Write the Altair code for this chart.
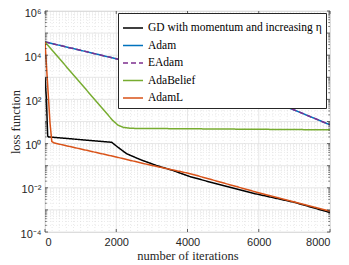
import altair as alt
import pandas as pd
import numpy as np

series = ["GD with momentum and increasing η", "Adam", "EAdam", "AdaBelief", "AdamL"]
colors = ["#000000", "#0072BD", "#7E2F8E", "#77AC30", "#D95319"]
dashes = [[1, 0], [1, 0], [5, 3], [1, 0], [1, 0]]

gd_iter = [0, 40, 75, 100, 1870, 2010, 2290, 2670, 3130, 3600, 4070, 5000, 5900, 7000, 8000]
gd_loss = [1e3, 1e2, 2.2, 2.0, 1.15, 0.76, 0.35, 0.19, 0.102, 0.060, 0.032, 0.0126, 0.0054, 0.0022, 0.00076]

adam_iter = [0, 1000, 2000, 3000, 4000, 4500, 5000, 5500, 6000, 7000, 8000]
adam_loss = [4e4, 1.66e4, 6.9e3, 2.8e3, 1.17e3, 741, 457, 263, 135, 33, 7.1]

eadam_iter = [0, 1000, 2000, 3000, 4000, 4500, 5000, 5500, 6000, 7000, 8000]
eadam_loss = [4e4, 1.66e4, 6.9e3, 2.8e3, 1.17e3, 741, 457, 263, 135, 33, 7.1]

adabelief_iter = [0, 1900, 2050, 2200, 2400, 8000]
adabelief_loss = [4e4, 11.2, 6.8, 5.4, 4.9, 4.2]

adaml_iter = [0, 140, 190, 253, 2010, 2950, 4070, 5900, 7000, 8000]
adaml_loss = [4e4, 8.9, 1.26, 1.07, 0.245, 0.107, 0.0437, 0.0066, 0.0023, 0.00087]

x_ticks = [0, 2000, 4000, 6000, 8000]
y_ticks = [1e-4, 1e-2, 1e0, 1e2, 1e4, 1e6]
y_labels = ["10⁻⁴", "10⁻²", "10⁰", "10²", "10⁴", "10⁶"]

W, H = 285, 221

rows = []
for name, its, ls in zip(series,
                         [gd_iter, adam_iter, eadam_iter, adabelief_iter, adaml_iter],
                         [gd_loss, adam_loss, eadam_loss, adabelief_loss, adaml_loss]):
    for i, l in zip(its, ls):
        rows.append({"series": name, "iter": i, "loss": l})
df = pd.DataFrame(rows)

xs = alt.Scale(domain=[0, 8000], nice=False, zero=False)
ys = alt.Scale(type="log", domain=[1e-4, 1e6], nice=False)

# grid values
x_minor = [v for v in range(0, 8001, 200) if v % 2000 != 0]
y_major = [10.0 ** k for k in range(-4, 7)]
y_minor = [m * 10.0 ** k for k in range(-4, 6) for m in range(2, 10)]

grid_col = "#dcdcdc"
gx_major = alt.Chart(pd.DataFrame({"v": x_ticks})).mark_rule(color=grid_col, strokeWidth=0.7).encode(
    x=alt.X("v:Q", scale=xs))
gx_minor = alt.Chart(pd.DataFrame({"v": x_minor})).mark_rule(color=grid_col, strokeWidth=0.6, strokeDash=[1, 2]).encode(
    x=alt.X("v:Q", scale=xs))
gy_major = alt.Chart(pd.DataFrame({"v": y_major})).mark_rule(color=grid_col, strokeWidth=0.7).encode(
    y=alt.Y("v:Q", scale=ys))
gy_minor = alt.Chart(pd.DataFrame({"v": y_minor})).mark_rule(color=grid_col, strokeWidth=0.6, strokeDash=[1, 2]).encode(
    y=alt.Y("v:Q", scale=ys))

tick_col = "#262626"
xt = pd.DataFrame({"v": x_ticks})
tx_bot = alt.Chart(xt).mark_rule(color=tick_col, strokeWidth=0.7).encode(
    x=alt.X("v:Q", scale=xs), y=alt.value(H), y2=alt.value(H - 3))
tx_top = alt.Chart(xt).mark_rule(color=tick_col, strokeWidth=0.7).encode(
    x=alt.X("v:Q", scale=xs), y=alt.value(0), y2=alt.value(3))
ytk = pd.DataFrame({"v": y_major})
ytm = pd.DataFrame({"v": y_minor})
ty_l = alt.Chart(ytk).mark_rule(color=tick_col, strokeWidth=0.7).encode(
    y=alt.Y("v:Q", scale=ys), x=alt.value(0), x2=alt.value(3))
ty_r = alt.Chart(ytk).mark_rule(color=tick_col, strokeWidth=0.7).encode(
    y=alt.Y("v:Q", scale=ys), x=alt.value(W), x2=alt.value(W - 3))
tym_l = alt.Chart(ytm).mark_rule(color=tick_col, strokeWidth=0.6).encode(
    y=alt.Y("v:Q", scale=ys), x=alt.value(0), x2=alt.value(1.8))
tym_r = alt.Chart(ytm).mark_rule(color=tick_col, strokeWidth=0.6).encode(
    y=alt.Y("v:Q", scale=ys), x=alt.value(W), x2=alt.value(W - 1.8))

label_expr = " : ".join(
    [f"datum.value < {v * 3.0} ? '{lab}'" for v, lab in zip(y_ticks[:-1], y_labels[:-1])]
) + f" : '{y_labels[-1]}'"

lines = alt.Chart(df).mark_line(strokeWidth=1.5, clip=True).encode(
    x=alt.X("iter:Q", scale=xs,
            axis=alt.Axis(values=x_ticks, format="d", title="number of iterations", grid=False, ticks=False,
                          domain=False, labelFont="Liberation Sans", labelFontSize=11,
                          labelColor="#262626", labelPadding=4,
                          titleFont="Liberation Serif", titleFontSize=12.5, titleFontWeight="normal",
                          titleColor="#262626", titlePadding=2)),
    y=alt.Y("loss:Q", scale=ys,
            axis=alt.Axis(values=y_ticks, labelExpr=label_expr, title="loss function", grid=False,
                          ticks=False, domain=False, labelFont="Liberation Sans", labelFontSize=11,
                          labelColor="#262626", labelPadding=4, labelOffset=2,
                          titleFont="Liberation Serif", titleFontSize=12.5, titleFontWeight="normal",
                          titleColor="#262626", titleX=-30, titleY=H / 2, titleAngle=270,
                          titleAlign="center", titleBaseline="middle")),
    color=alt.Color("series:N", scale=alt.Scale(domain=series, range=colors),
                    legend=alt.Legend(title=None, orient="none", legendX=73, legendY=2,
                                      fillColor="white", strokeColor="#262626", padding=4,
                                      symbolType="stroke", symbolSize=400, symbolStrokeWidth=1.5,
                                      labelFont="Liberation Serif", labelFontSize=11.5,
                                      labelColor="black", rowPadding=0.5, labelLimit=300,
                                      symbolOffset=0)),
    strokeDash=alt.StrokeDash("series:N", scale=alt.Scale(domain=series, range=dashes)),
    order=alt.Order("iter:Q"),
)

chart = alt.layer(gx_minor, gy_minor, gx_major, gy_major, lines,
                  tx_bot, tx_top, ty_l, ty_r, tym_l, tym_r).properties(
    width=W, height=H,
    autosize=alt.AutoSizeParams(type="none"),
    padding={"left": 37, "top": 3, "right": 10, "bottom": 30},
).configure_view(stroke="#262626", strokeWidth=1).configure(background="white")

chart.save("out.html", embed_options={"renderer": "svg", "actions": False})
